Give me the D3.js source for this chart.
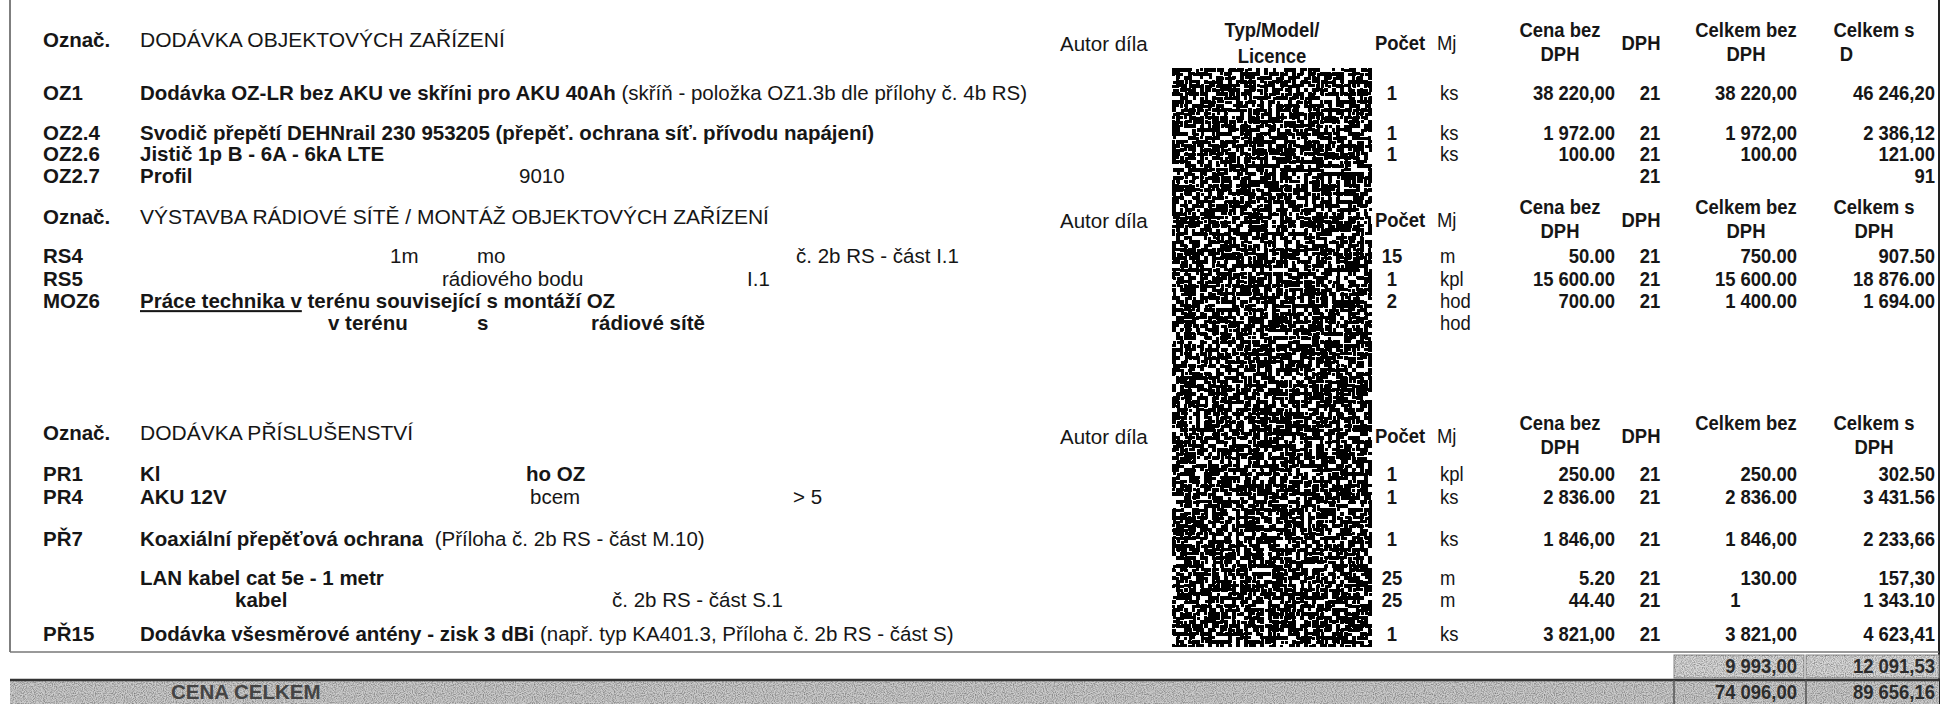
<!DOCTYPE html>
<html>
<head>
<meta charset="utf-8">
<script src="https://cdn.jsdelivr.net/npm/d3@7"></script>
<style>
  body { margin: 0; background: #fff; }
  svg text { white-space: pre; }
</style>
</head>
<body>
<div id="sheet"></div>
<script>
// Colour codes.
const ink = "#161616";
const greyInk = "#2c2c2c";

// Section headings.
const sectionTitles = [
  "DODÁVKA OBJEKTOVÝCH ZAŘÍZENÍ",
  "VÝSTAVBA RÁDIOVÉ SÍTĚ / MONTÁŽ OBJEKTOVÝCH ZAŘÍZENÍ",
  "DODÁVKA PŘÍSLUŠENSTVÍ"
];

// Column headings per section (second line after "|").
const colKeys = ["qty", "unit", "price", "vat", "total", "totalVat"];
const colHeads = [
  ["Počet", "Mj", "Cena bez|DPH", "DPH", "Celkem bez|DPH", "Celkem s|D\u2002\u2002\u2002\u2002\u2002\u2002"],
  ["Počet", "Mj", "Cena bez|DPH", "DPH", "Celkem bez|DPH", "Celkem s|DPH"],
  ["Počet", "Mj", "Cena bez|DPH", "DPH", "Celkem bez", "Celkem s|DPH"]
];

// Item rows.
const itemCode = ["OZ1", "OZ2.4", "OZ2.6", "OZ2.7", "RS4", "RS5", "MOZ6", "", "PR1", "PR4", "PŘ7", "", "", "PŘ15"];
const itemText = [
  ["Dodávka OZ-LR bez AKU ve skříni pro AKU 40Ah", " (skříň - položka OZ1.3b dle přílohy č. 4b RS)"],
  ["Svodič přepětí DEHNrail 230 953205 (přepěť. ochrana síť. přívodu napájení)"],
  ["Jistič 1p B - 6A - 6kA LTE"],
  ["Profil", "9010"],
  ["1m", "mo", "č. 2b RS - část I.1"],
  ["rádiového bodu", "I.1"],
  ["Práce technika v", " terénu související s montáží OZ"],
  ["v terénu", "s", "rádiové sítě"],
  ["Kl", "ho OZ"],
  ["AKU 12V", "bcem", "> 5"],
  ["Koaxiální přepěťová ochrana", "  (Příloha č. 2b RS - část M.10)"],
  ["LAN kabel cat 5e - 1 metr"],
  ["kabel", "č. 2b RS - část S.1"],
  ["Dodávka všesměrové antény - zisk 3 dBi", " (např. typ KA401.3, Příloha č. 2b RS - část S)"]
];
const qty = ["1", "1", "1", "", "15", "1", "2", "", "1", "1", "1", "25", "25", "1"];
const unit = ["ks", "ks", "ks", "", "m", "kpl", "hod", "hod", "kpl", "ks", "ks", "m", "m", "ks"];
const price = ["38 220,00", "1 972.00", "100.00", "", "50.00", "15 600.00", "700.00", "", "250.00", "2 836.00", "1 846,00", "5.20", "44.40", "3 821,00"];
const vat = ["21", "21", "21", "21", "21", "21", "21", "", "21", "21", "21", "21", "21", "21"];
const total = ["38 220,00", "1 972,00", "100.00", "", "750.00", "15 600.00", "1 400.00", "", "250.00", "2 836.00", "1 846,00", "130.00", "1\u2007\u2007\u2007\u2007\u2007\u2008", "3 821,00"];
const totalVat = ["46 246,20", "2 386,12", "121.00", "91", "907.50", "18 876.00", "1 694.00", "", "302.50", "3 431.56", "2 233,66", "157,30", "1 343.10", "4 623,41"];

// Totals.
const totalsLabel = "CENA CELKEM";
const subTotals = ["9 993,00", "12 091,53"];
const grandTotals = ["74 096,00", "89 656,16"];

// Layout: line slots for rows, fragment placement.
const sectionLine = [0, 8.05, 17.86];
const rowLine = [2.4, 4.23, 5.18, 6.18, 9.82, 10.86, 11.86, 12.86, 19.73, 20.77, 22.68, 24.45, 25.45, 27.0];
const fragStyle = [
  [{b: 1}, {b: 0}],
  [{b: 1}],
  [{b: 1}],
  [{b: 1}, {b: 0, x: 519}],
  [{b: 0, x: 390}, {b: 0, x: 477}, {b: 0, x: 796}],
  [{b: 0, x: 442}, {b: 0, x: 747}],
  [{b: 1, u: 1}, {b: 1}],
  [{b: 1, x: 328}, {b: 1, x: 477}, {b: 1, x: 591}],
  [{b: 1}, {b: 1, x: 526}],
  [{b: 1}, {b: 0, x: 530}, {b: 0, x: 793}],
  [{b: 1}, {b: 0}],
  [{b: 1}],
  [{b: 1, x: 235}, {b: 0, x: 612}],
  [{b: 1}, {b: 0}]
];

const W = 1942, H = 704;
const fontSize = 20.5;
const narrow = 0.9;   // the figures on the right are set a little condensed
const font = "'Liberation Sans', Arial, sans-serif";

const svg = d3.select("#sheet")
  .append("svg")
    .attr("width", W)
    .attr("height", H)
    .style("font-family", font)
    .style("font-size", fontSize + "px");

// Vertical line scale (one slot = one text line).
const y = d3.scaleLinear().domain([0, 1]).range([40, 62]);

// Column anchors.
const colX = d3.scaleOrdinal().domain(colKeys).range([1392, 1440, 1615, 1650, 1797, 1935]);
const colAnchor = d3.scaleOrdinal().domain(colKeys).range(["middle", "start", "end", "middle", "end", "end"]);
const headX = d3.scaleOrdinal().domain(colKeys).range([1400, 1437, 1560, 1641, 1746, 1874]);
const headAnchor = d3.scaleOrdinal().domain(colKeys).range(["middle", "start", "middle", "middle", "middle", "middle"]);

const codeX = 43, descX = 140;

function place(x, yy) {
  return "translate(" + x + "," + yy + ") scale(" + narrow + ",1)";
}

// Blanked-out column: thresholded noise, sampled on a 4px grid.
const nb = {x: 1172, y: 68, w: 200, h: 579};
const defs = svg.append("defs");
const f = defs.append("filter")
    .attr("id", "scanNoise")
    .attr("filterUnits", "userSpaceOnUse")
    .attr("x", nb.x).attr("y", nb.y).attr("width", nb.w).attr("height", nb.h);
f.append("feTurbulence")
    .attr("type", "fractalNoise")
    .attr("baseFrequency", 0.22)
    .attr("numOctaves", 2)
    .attr("seed", 11);
f.append("feColorMatrix")
    .attr("type", "matrix")
    .attr("values", "0 0 0 0 0  0 0 0 0 0  0 0 0 0 0  -1 0 0 0 1.03");
f.append("feComponentTransfer")
    .attr("result", "bw")
  .append("feFuncA")
    .attr("type", "discrete")
    .attr("tableValues", "0 1");
f.append("feFlood")
    .attr("x", nb.x + 1).attr("y", nb.y + 1).attr("width", 2).attr("height", 2)
    .attr("flood-color", "#000");
f.append("feComposite")
    .attr("x", nb.x).attr("y", nb.y).attr("width", 4).attr("height", 4);
f.append("feTile")
    .attr("result", "grid");
f.append("feComposite")
    .attr("in", "bw").attr("in2", "grid").attr("operator", "in");
f.append("feMorphology")
    .attr("operator", "dilate").attr("radius", 1);

const g2 = defs.append("filter")
    .attr("id", "grain")
    .attr("x", 0).attr("y", 0).attr("width", 1).attr("height", 1);
g2.append("feTurbulence")
    .attr("type", "fractalNoise")
    .attr("baseFrequency", 0.9)
    .attr("numOctaves", 1)
    .attr("seed", 4);
g2.append("feColorMatrix")
    .attr("type", "matrix")
    .attr("values", "0 0 0 0 0  0 0 0 0 0  0 0 0 0 0  -0.9 0 0 0 0.55");

// Frame lines.
svg.append("line")
    .attr("x1", 10).attr("x2", 10).attr("y1", 0).attr("y2", 652)
    .attr("stroke", "#555").attr("stroke-width", 1.5);
svg.append("line")
    .attr("x1", 1939).attr("x2", 1939).attr("y1", 0).attr("y2", H)
    .attr("stroke", "#222").attr("stroke-width", 2);

// Noise block.
svg.append("rect")
    .attr("x", nb.x).attr("y", nb.y).attr("width", nb.w).attr("height", nb.h)
    .attr("fill", "#fff");
svg.append("rect")
    .attr("x", nb.x).attr("y", nb.y).attr("width", nb.w).attr("height", nb.h)
    .attr("filter", "url(#scanNoise)");

// Section headings.
sectionTitles.forEach((title, s) => {
  const yy = y(sectionLine[s]);
  svg.append("text")
      .attr("x", codeX).attr("y", yy).attr("dy", "0.35em")
      .attr("fill", ink).attr("font-weight", 700)
      .text("Označ.");
  svg.append("text")
      .attr("x", descX).attr("y", yy).attr("dy", "0.35em")
      .attr("fill", ink)
      .style("font-size", "21px")
      .text(title);
  svg.append("text")
      .attr("x", 1060).attr("y", yy + 4).attr("dy", "0.35em")
      .attr("fill", ink)
      .text("Autor díla");
  if (s === 0) {
    ["Typ/Model/", "Licence"].forEach((t, i) => {
      svg.append("text")
          .attr("transform", place(1272, yy - 10 + i * 26))
          .attr("dy", "0.35em")
          .attr("text-anchor", "middle").attr("fill", ink).attr("font-weight", 700)
          .text(t);
    });
  }
  colHeads[s].forEach((h, i) => {
    const key = colKeys[i];
    const lines = h.split("|");
    lines.forEach((t, j) => {
      const ly = lines.length === 1 && key !== "total" ? yy + 3 : yy - 10 + j * 24;
      svg.append("text")
          .attr("transform", place(headX(key), ly))
          .attr("dy", "0.35em")
          .attr("text-anchor", headAnchor(key))
          .attr("fill", ink).attr("font-weight", key === "unit" ? 400 : 700)
          .text(t);
    });
  });
});

// Item rows.
const rows = itemCode.map((c, i) => ({
  code: c, text: itemText[i], style: fragStyle[i], line: rowLine[i],
  qty: qty[i], unit: unit[i], price: price[i], vat: vat[i], total: total[i], totalVat: totalVat[i]
}));

const row = svg.selectAll("g.row")
  .data(rows)
  .join("g")
    .attr("class", "row")
    .attr("transform", d => "translate(0," + y(d.line) + ")");

row.append("text")
    .attr("x", codeX).attr("dy", "0.35em")
    .attr("fill", ink).attr("font-weight", 700)
    .text(d => d.code);

row.append("text")
    .attr("x", descX).attr("dy", "0.35em")
    .attr("fill", ink)
    .each(function(d) {
      const t = d3.select(this);
      d.text.forEach((s, k) => {
        const st = d.style[k];
        const sp = t.append("tspan")
            .attr("font-weight", st.b ? 700 : 400)
            .text(s);
        if (st.x !== undefined) sp.attr("x", st.x);
        if (st.u) sp.attr("text-decoration", "underline");
      });
    });

colKeys.forEach(key => {
  row.append("text")
      .attr("transform", place(colX(key), 0))
      .attr("dy", "0.35em")
      .attr("text-anchor", colAnchor(key))
      .attr("fill", ink)
      .attr("font-weight", key === "unit" ? 400 : 700)
      .text(d => d[key]);
});

// Totals block.
const totalsTop = 652, band1 = 655, band2 = 680;
svg.append("line")
    .attr("x1", 10).attr("x2", 1939).attr("y1", totalsTop).attr("y2", totalsTop)
    .attr("stroke", "#777").attr("stroke-width", 1.5);

const boxX = [1674, 1806], boxW = [130, 133];
const boxes = svg.selectAll("g.box")
  .data(subTotals)
  .join("g").attr("class", "box");
boxes.append("rect")
    .attr("x", (d, i) => boxX[i]).attr("y", band1)
    .attr("width", (d, i) => boxW[i]).attr("height", 23)
    .attr("fill", "#d8d8d8").attr("stroke", "#888");
boxes.append("rect")
    .attr("x", (d, i) => boxX[i]).attr("y", band1)
    .attr("width", (d, i) => boxW[i]).attr("height", 23)
    .attr("filter", "url(#grain)");

// Grand total band.
svg.append("rect")
    .attr("x", 10).attr("y", band2).attr("width", 1929).attr("height", H - band2)
    .attr("fill", "#cbcbcb");
svg.append("rect")
    .attr("x", 10).attr("y", band2).attr("width", 1929).attr("height", H - band2)
    .attr("filter", "url(#grain)");
svg.append("line")
    .attr("x1", 10).attr("x2", 1939).attr("y1", band2).attr("y2", band2)
    .attr("stroke", "#333").attr("stroke-width", 2.5);
boxX.forEach(bx => {
  svg.append("line")
      .attr("x1", bx).attr("x2", bx).attr("y1", band2).attr("y2", H)
      .attr("stroke", "#555").attr("stroke-width", 1.5);
});

svg.append("text")
    .attr("x", 171).attr("y", 692).attr("dy", "0.35em")
    .attr("fill", "#444").attr("font-weight", 700)
    .text(totalsLabel);

const totalCols = ["total", "totalVat"];
subTotals.forEach((v, i) => {
  svg.append("text")
      .attr("transform", place(colX(totalCols[i]), 666))
      .attr("dy", "0.35em")
      .attr("text-anchor", "end").attr("fill", greyInk).attr("font-weight", 700)
      .text(v);
});
grandTotals.forEach((v, i) => {
  svg.append("text")
      .attr("transform", place(colX(totalCols[i]), 692))
      .attr("dy", "0.35em")
      .attr("text-anchor", "end").attr("fill", greyInk).attr("font-weight", 700)
      .text(v);
});
</script>
</body>
</html>
